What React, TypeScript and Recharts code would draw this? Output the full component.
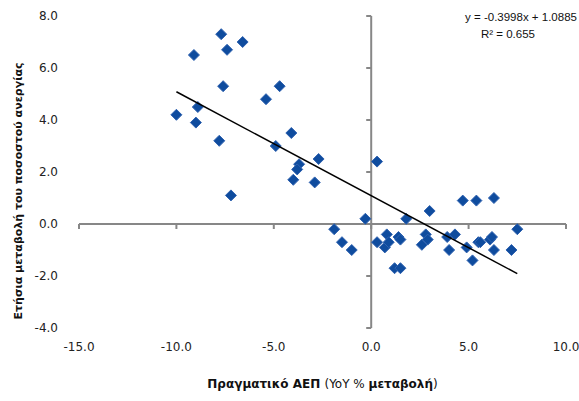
import React from 'react';
import { ScatterChart, Scatter, XAxis, YAxis, ReferenceLine, ReferenceDot } from 'recharts';

const gdpGrowth = [
  -7.7, -6.6, -7.4, -9.1, -7.6, -4.7, -5.4, -8.9, -10.0, -9.0,
  -7.8, -4.1, -4.9, -2.7, -3.7, -3.8, -4.0, -2.9, -7.2, 0.3,
  -1.9, -1.5, -1.0, -0.3, 1.8, 3.0, 4.7, 5.4, 6.3, 7.5,
  0.3, 0.8, 0.7, 0.9, 1.4, 1.5, 1.2, 1.5, 2.6, 2.8,
  2.9, 3.9, 4.3, 4.0, 4.9, 5.2, 5.5, 5.6, 6.1, 6.2,
  6.3, 7.2,
];
const unemploymentChange = [
  7.3, 7.0, 6.7, 6.5, 5.3, 5.3, 4.8, 4.5, 4.2, 3.9,
  3.2, 3.5, 3.0, 2.5, 2.3, 2.1, 1.7, 1.6, 1.1, 2.4,
  -0.2, -0.7, -1.0, 0.2, 0.2, 0.5, 0.9, 0.9, 1.0, -0.2,
  -0.7, -0.4, -0.9, -0.7, -0.5, -0.6, -1.7, -1.7, -0.8, -0.4,
  -0.6, -0.5, -0.4, -1.0, -0.9, -1.4, -0.7, -0.7, -0.6, -0.5,
  -1.0, -1.0,
];
const xTicks = [-15, -10, -5, 0, 5, 10];
const yTicks = [-4, -2, 0, 2, 4, 6, 8];
const slope = -0.3998;
const intercept = 1.0885;
const equationText = 'y = -0.3998x + 1.0885';
const r2Text = 'R² = 0.655';
const xTitleParts = [
  { text: 'Πραγματικό ΑΕΠ ', bold: true },
  { text: '(YoY % ', bold: false },
  { text: 'μεταβολή', bold: true },
  { text: ')', bold: false },
];
const yTitle = 'Ετήσια μεταβολή του ποσοστού ανεργίας';

const points = gdpGrowth.map((x, i) => ({ x, y: unemploymentChange[i] }));
const xMin = Math.min(...gdpGrowth);
const xMax = Math.max(...gdpGrowth);
const trend = [xMin, xMax].map((x) => ({ x, y: slope * x + intercept }));

const FONT = 'DejaVu Sans';
const AXIS_COLOR = '#878787';

const Diamond = (props: any) => {
  const { cx, cy } = props;
  const r = 5.5;
  return (
    <polygon
      points={`${cx},${cy - r} ${cx + r},${cy} ${cx},${cy + r} ${cx - r},${cy}`}
      fill="#0F4C9E"
      stroke="#2F62B0"
      strokeWidth={1}
    />
  );
};

const YTickMark = (props: any) => (
  <line x1={props.cx - 5} y1={props.cy} x2={props.cx} y2={props.cy} stroke={AXIS_COLOR} strokeWidth={2} />
);
const XTickMark = (props: any) => (
  <line x1={props.cx} y1={props.cy} x2={props.cx} y2={props.cy + 5} stroke={AXIS_COLOR} strokeWidth={2} />
);

const XTitle = (props: any) => {
  const vb = props.viewBox || {};
  return (
    <text x={vb.x + vb.width / 2} y={vb.y + 60} textAnchor="middle" fontFamily={FONT} fontSize={12} fill="#111">
      {xTitleParts.map((p, i) => (
        <tspan key={i} fontWeight={p.bold ? 'bold' : 'normal'}>{p.text}</tspan>
      ))}
    </text>
  );
};

const YTitle = () => {
  const x = 22;
  const y = 191;
  return (
    <text x={x} y={y} transform={`rotate(-90 ${x} ${y})`} textAnchor="middle" fontFamily={FONT} fontSize={11} fontWeight="bold" fill="#111">
      {yTitle}
    </text>
  );
};

const Equation = () => (
  <g fontFamily="Liberation Sans" fontSize={11.5} fill="#111">
    <text x={521} y={21} textAnchor="middle">{equationText}</text>
    <text x={508} y={38} textAnchor="middle">{r2Text}</text>
  </g>
);

export default function App() {
  return (
    <div style={{ position: 'absolute', left: 0, top: 0, width: 579, height: 401, background: '#fff' }}>
      <ScatterChart width={579} height={401} margin={{ top: 16, right: 13, bottom: 0, left: 0 }}>
        <XAxis
          type="number"
          dataKey="x"
          domain={[-15, 10]}
          ticks={xTicks}
          allowDataOverflow
          tickFormatter={(v: number) => v.toFixed(1)}
          axisLine={false}
          tickLine={false}
          tickSize={0}
          tickMargin={14}
          height={73}
          tick={{ fontFamily: FONT, fontSize: 12, fill: '#222' }}
          label={<XTitle />}
        />
        <YAxis
          type="number"
          dataKey="y"
          domain={[-4, 8]}
          ticks={yTicks}
          allowDataOverflow
          tickFormatter={(v: number) => v.toFixed(1)}
          axisLine={false}
          tickLine={false}
          tickSize={0}
          tickMargin={21}
          width={79}
          tick={{ fontFamily: FONT, fontSize: 12, fill: '#222' }}
          label={<YTitle />}
        />
        <ReferenceLine x={0} stroke={AXIS_COLOR} strokeWidth={2} />
        <ReferenceLine y={0} stroke={AXIS_COLOR} strokeWidth={2} label={<Equation />} />
        {yTicks.map((t) => (
          <ReferenceDot key={'yt' + t} x={0} y={t} r={0} shape={<YTickMark />} />
        ))}
        {xTicks.map((t) => (
          <ReferenceDot key={'xt' + t} x={t} y={0} r={0} shape={<XTickMark />} />
        ))}
        <Scatter data={points} shape={<Diamond />} isAnimationActive={false} />
        <Scatter
          data={trend}
          line={{ stroke: '#000', strokeWidth: 1.5 }}
          shape={() => null}
          isAnimationActive={false}
        />
      </ScatterChart>
    </div>
  );
}
